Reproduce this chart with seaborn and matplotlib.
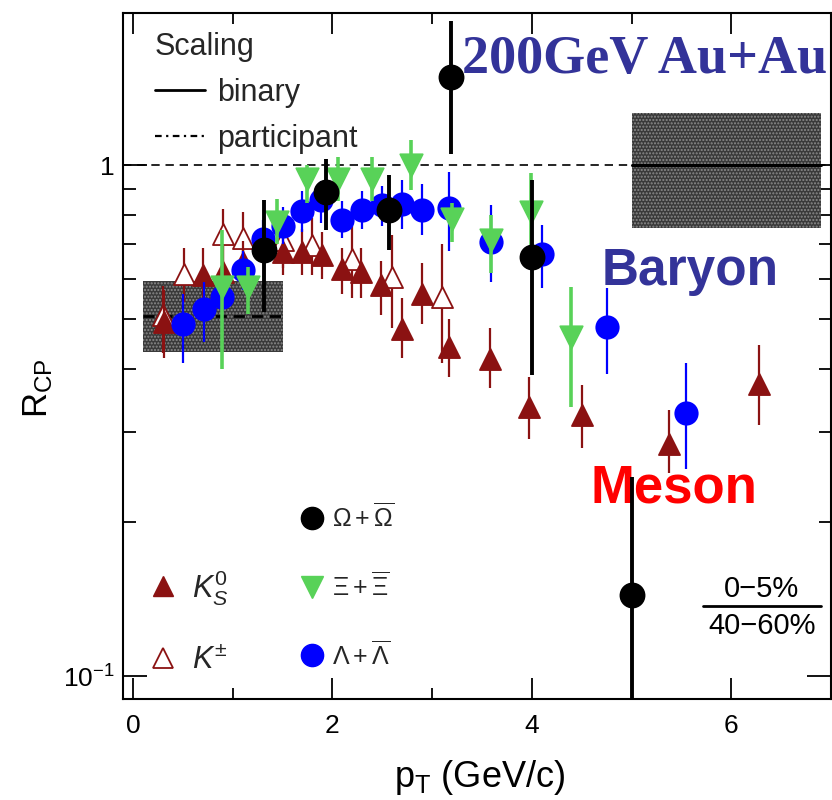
import numpy as np
import pandas as pd
import matplotlib
matplotlib.use("Agg")
import matplotlib.pyplot as plt
import seaborn as sns
from matplotlib.lines import Line2D
from matplotlib.patches import Rectangle

sns.set_theme(style="white")
plt.rcParams['font.family'] = ['Liberation Sans', 'DejaVu Sans']
plt.rcParams['mathtext.fontset'] = 'custom'
plt.rcParams['mathtext.rm'] = 'Liberation Sans'
plt.rcParams['mathtext.it'] = 'Liberation Sans:italic'
plt.rcParams['hatch.linewidth'] = 1.0

# ---------------- data ----------------
k0s_pt  = [0.31, 0.70, 0.90, 1.10, 1.50, 1.70, 1.90, 2.10, 2.29, 2.49, 2.70, 2.90, 3.17, 3.58, 3.97, 4.50, 5.38, 6.28]
k0s_val = [0.494, 0.609, 0.618, 0.647, 0.677, 0.677, 0.667, 0.628, 0.618, 0.582, 0.479, 0.561, 0.441, 0.418, 0.337, 0.324, 0.285, 0.374]
k0s_lo  = [0.42, 0.54, 0.55, 0.59, 0.61, 0.61, 0.60, 0.56, 0.55, 0.51, 0.42, 0.49, 0.385, 0.366, 0.291, 0.28, 0.25, 0.31]
k0s_hi  = [0.57, 0.69, 0.70, 0.71, 0.75, 0.75, 0.74, 0.69, 0.69, 0.65, 0.55, 0.643, 0.50, 0.48, 0.385, 0.371, 0.332, 0.444]

kch_pt  = [0.30, 0.51, 0.90, 1.10, 1.50, 1.80, 2.20, 2.60, 3.10]
kch_val = [0.509, 0.614, 0.735, 0.722, 0.713, 0.697, 0.657, 0.605, 0.552]
kch_lo  = [0.43, 0.54, 0.64, 0.64, 0.63, 0.61, 0.55, 0.48, 0.41]
kch_hi  = [0.58, 0.69, 0.82, 0.81, 0.80, 0.79, 0.76, 0.73, 0.70]

lam_pt  = [0.50, 0.71, 0.89, 1.10, 1.30, 1.50, 1.70, 1.89, 2.10, 2.30, 2.50, 2.70, 2.90, 3.17, 3.59, 4.10, 4.75, 5.55]
lam_val = [0.490, 0.523, 0.552, 0.625, 0.719, 0.76, 0.813, 0.854, 0.783, 0.819, 0.835, 0.841, 0.819, 0.826, 0.708, 0.670, 0.482, 0.327]
lam_lo  = [0.41, 0.45, 0.48, 0.57, 0.66, 0.70, 0.74, 0.77, 0.72, 0.75, 0.76, 0.75, 0.73, 0.68, 0.59, 0.574, 0.391, 0.254]
lam_hi  = [0.56, 0.59, 0.62, 0.68, 0.78, 0.83, 0.89, 0.93, 0.85, 0.89, 0.91, 0.935, 0.921, 0.97, 0.835, 0.763, 0.574, 0.41]

xi_pt   = [0.89, 1.15, 1.44, 1.75, 2.06, 2.40, 2.79, 3.20, 3.59, 3.99, 4.39]
xi_val  = [0.578, 0.578, 0.775, 0.942, 0.942, 0.942, 1.0, 0.786, 0.713, 0.810, 0.461]
xi_lo   = [0.40, 0.512, 0.70, 0.843, 0.85, 0.85, 0.893, 0.708, 0.615, 0.68, 0.337]
xi_hi   = [0.746, 0.633, 0.86, 1.0, 1.04, 1.04, 1.12, 0.843, 0.798, 0.966, 0.578]

om_pt   = [1.31, 1.94, 2.57, 3.19, 4.00, 5.00]
om_val  = [0.684, 0.887, 0.817, 1.489, 0.662, 0.144]
om_lo   = [0.516, 0.746, 0.682, 1.054, 0.388, 0.05]
om_hi   = [0.854, 1.03, 0.956, 1.92, 0.935, 0.245]

# scaling uncertainty bands: (x0, x1, y_lo, y_hi, level)
part_band = [0.1, 1.5, 0.431, 0.595, 0.507]
bin_band  = [5.0, 6.9, 0.755, 1.264, 1.0]

# ---------------- figure ----------------
fig = plt.figure(figsize=(8.32, 8.0), dpi=100)
ax = fig.add_axes([123/832, 1-699/800, 708/832, 686.3/800])
ax.set_yscale('log')
ax.set_xlim(-0.1, 7.0)
ax.set_ylim(0.0902, 1.99)

# bands
for b, ls in [(part_band, (0, (4, 2.5))), (bin_band, '-')]:
    ax.add_patch(Rectangle((b[0], b[2]), b[1]-b[0], b[3]-b[2], facecolor='#3a3a3a',
                           edgecolor='#8c8c8c', hatch='.....', linewidth=0, zorder=1))
    ax.plot([b[0], b[1]], [b[4], b[4]], color='black', lw=2.2 if ls == '-' else 2.0,
            ls=ls, zorder=2)

ax.axhline(1.0, color='black', lw=1.2, ls=(0, (5, 3.5)), zorder=1.5)

RED = '#8b1212'
GREEN = '#58d258'
BLUE = '#0000ff'

series = [
    (kch_pt, kch_val, kch_lo, kch_hi, RED, 1.6, '^', 'white', RED, 230),
    (k0s_pt, k0s_val, k0s_lo, k0s_hi, RED, 1.6, '^', RED, RED, 230),
    (lam_pt, lam_val, lam_lo, lam_hi, BLUE, 1.6, 'o', BLUE, BLUE, 260),
    (xi_pt, xi_val, xi_lo, xi_hi, GREEN, 2.6, 'v', GREEN, GREEN, 260),
    (om_pt, om_val, om_lo, om_hi, 'black', 2.8, 'o', 'black', 'black', 300),
]
z = 3
for pt, val, lo, hi, col, lw, mk, fc, ec, s in series:
    df = pd.DataFrame({'pt': pt, 'val': val, 'lo': lo, 'hi': hi})
    ax.vlines(df['pt'], df['lo'], df['hi'], color=col, lw=lw, zorder=z)
    sns.scatterplot(data=df, x='pt', y='val', marker=mk, s=s, color=fc,
                    edgecolor=ec, linewidth=1.3, ax=ax, zorder=z+0.5, legend=False)
    z += 1

# ---------------- axes styling ----------------
for sp in ax.spines.values():
    sp.set_linewidth(1.5)
    sp.set_color('black')
ax.set_xticks([0, 2, 4, 6])
ax.set_xticks([1, 3, 5], minor=True)
ax.set_xticklabels(['0', '2', '4', '6'])
ax.set_yticks([0.1, 1.0])
ax.set_yticklabels([r'$10^{-1}$', '1'])
ax.set_yticks([0.2, 0.3, 0.4, 0.5, 0.6, 0.7, 0.8, 0.9], minor=True)
ax.yaxis.set_minor_formatter(matplotlib.ticker.NullFormatter())
ax.tick_params(which='both', direction='in', top=True, right=True, bottom=True, left=True,
               color='black', width=1.3, labelsize=19, labelcolor='black')
ax.tick_params(axis='x', which='major', length=15, pad=11)
ax.tick_params(axis='x', which='minor', length=8)
ax.tick_params(axis='y', which='major', length=17, pad=6)
ax.tick_params(axis='y', which='minor', length=9)
ax.set_xlabel(r'p$_\mathrm{T}$ (GeV/c)', fontsize=26, color='black')
ax.xaxis.set_label_coords(0.503, -0.086)
ax.set_ylabel(r'R$_\mathrm{CP}$', fontsize=25, color='black')
ax.yaxis.set_label_coords(-0.096, 0.453)
ax.grid(False)

# ---------------- legends ----------------
scal_handles = [Line2D([], [], color='black', lw=2.0, ls='-'),
                Line2D([], [], color='black', lw=1.6, ls=(0, (3, 2, 1, 2)))]
leg1 = ax.legend(scal_handles, ['binary', 'participant'], title='Scaling', loc='upper left',
                 bbox_to_anchor=(0.045, 0.972), frameon=False, fontsize=22, title_fontsize=22,
                 handlelength=1.65, handletextpad=0.4, labelspacing=0.52, borderpad=0.0,
                 borderaxespad=0.0)
leg1._legend_box.align = 'left'
ax.add_artist(leg1)

bar_handles = [Line2D([], [], ls='none', marker='o', ms=16, color='black'),
               Line2D([], [], ls='none', marker='v', ms=16, color=GREEN),
               Line2D([], [], ls='none', marker='o', ms=16, color=BLUE)]
leg2 = ax.legend(bar_handles, [r'$\Omega+\overline{\Omega}$', r'$\Xi+\overline{\Xi}$',
                               r'$\Lambda+\overline{\Lambda}$'],
                 loc='upper left', bbox_to_anchor=(0.235, 0.301), frameon=False,
                 handlelength=1.0, handletextpad=0.3, labelspacing=1.6, borderaxespad=0.0,
                 prop={'size': 18})
ax.add_artist(leg2)

k_handles = [Line2D([], [], ls='none', marker='^', ms=15, color=RED),
             Line2D([], [], ls='none', marker='^', ms=15, mfc='white', mec=RED, mew=1.3)]
leg3 = ax.legend(k_handles, [r'$K^0_S$', r'$K^{\pm}$'], loc='upper left',
                 bbox_to_anchor=(0.018, 0.209), frameon=False, fontsize=22,
                 handlelength=1.0, handletextpad=0.45, labelspacing=1.25, borderaxespad=0.0)

# ---------------- annotations ----------------
ax.text(0.994, 0.912, '200GeV Au+Au', transform=ax.transAxes, ha='right', va='baseline',
        fontsize=39, fontweight='bold', family='Liberation Serif', color='#333399')
ax.text(0.801, 0.603, 'Baryon', transform=ax.transAxes, ha='center', va='baseline',
        fontsize=37, fontweight='bold', color='#333399')
ax.text(0.778, 0.287, 'Meson', transform=ax.transAxes, ha='center', va='baseline',
        fontsize=38, fontweight='bold', color='#ff0000')
ax.text(0.9025, 0.160, '0\u22125%', transform=ax.transAxes, ha='center', va='center',
        fontsize=21, color='black')
ax.plot([0.819, 0.986], [0.1355, 0.1355], transform=ax.transAxes, color='black', lw=2)
ax.text(0.9025, 0.106, '40\u221260%', transform=ax.transAxes, ha='center', va='center',
        fontsize=21, color='black')

fig.savefig('out.png', dpi=100)
